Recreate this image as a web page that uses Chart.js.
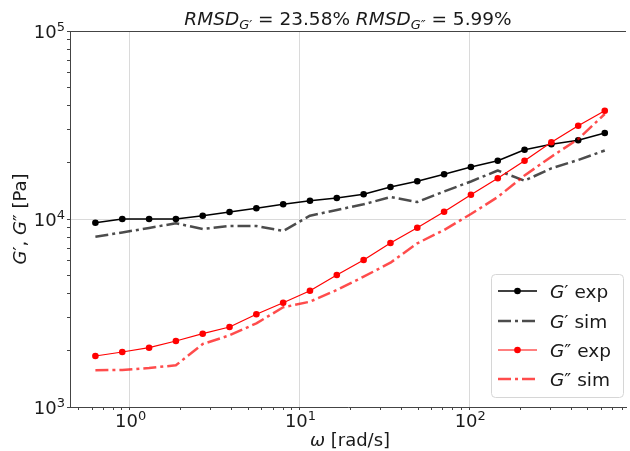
<!DOCTYPE html>
<html><head><meta charset="utf-8">
<script src="https://cdn.jsdelivr.net/npm/chart.js@4.4.0/dist/chart.umd.min.js"></script>
<style>html,body{margin:0;padding:0;background:#fff;}</style>
</head><body>
<canvas id="c" width="630" height="451" style="width:630px;height:451px;display:block"></canvas>
<script>
// ---- data ----
const omega = [0.628, 0.904, 1.301, 1.871, 2.692, 3.873, 5.572, 8.016, 11.53, 16.59,
               23.87, 34.35, 49.41, 71.09, 102.3, 147.2, 211.7, 304.6, 438.2, 628.3];
const gPrimeExp = [9557, 10000, 10000, 10000, 10412, 10896, 11400, 11974, 12514, 12931,
                   13533, 14797, 15870, 17289, 18904, 20424, 23370, 24960, 26220, 28670];
const gPrimeSim = [8050, 8477, 8968, 9486, 8846, 9179, 9179, 8635, 10412, 11166,
                   11974, 13092, 12315, 14008, 15832, 18113, 15987, 18609, 20600, 23140];
const gDblExp = [1867, 1962, 2068, 2244, 2454, 2664, 3112, 3587, 4151, 5036,
                 6052, 7452, 8989, 10937, 13464, 16461, 20393, 25586, 31357, 37670];
const gDblSim = [1568, 1574, 1613, 1667, 2163, 2406, 2787, 3391, 3632, 4192,
                 4933, 5856, 7425, 8739, 10631, 13092, 17036, 21449, 26640, 36180];
const xTickValues = [1, 10, 100];
const xTickExps = ['0', '1', '2'];
const yTickValues = [1000, 10000, 100000];
const yTickExps = ['3', '4', '5'];
const tickBase = '10';
const titleParts = ['RMSD', 'G′', ' = 23.58% ', 'RMSD', 'G″', ' = 5.99%'];
const seriesLabels = [['G', '′ exp'], ['G', '′ sim'], ['G', '″ exp'], ['G', '″ sim']];
const xLabel = ['ω', ' [rad/s]'];
const yLabel = ['G', '′, ', 'G', '″ [Pa]'];

const FONT = '"DejaVu Sans", sans-serif';
const AXIS = '#444';
const GRID = '#dadada';
const TXT = '#1a1a1a';
const SIM_DASH = [13, 4, 3, 4];

function pts(ys) { return omega.map((x, i) => ({x: x, y: ys[i]})); }

function minorTicks(min, max) {
  const out = [];
  for (let d = Math.floor(Math.log10(min)); d <= Math.ceil(Math.log10(max)); d++) {
    for (let m = 1; m <= 9; m++) {
      const v = m * Math.pow(10, d);
      if (v >= min * 0.9999 && v <= max * 1.0001) out.push({value: v});
    }
  }
  return out;
}
function isMajor(v, list) { return list.some(m => Math.abs(v / m - 1) < 1e-6); }

function fontStr(s) { return (s.it ? 'italic ' : '') + s.size + 'px ' + FONT; }
function richWidth(ctx, segs) {
  let w = 0;
  segs.forEach(s => { ctx.font = fontStr(s); s.w = ctx.measureText(s.t).width; w += s.w; });
  return w;
}
function drawRichAt(ctx, segs, x, y, align) {
  const w = richWidth(ctx, segs);
  let cx = align === 'center' ? x - w / 2 : align === 'right' ? x - w : x;
  ctx.textAlign = 'left';
  ctx.textBaseline = 'alphabetic';
  segs.forEach(s => { ctx.font = fontStr(s); ctx.fillText(s.t, cx, y + (s.dy || 0)); cx += s.w; });
}
function powSegs(e) { return [{t: tickBase, size: 18}, {t: e, size: 13, dy: -7.5}]; }

const decor = {
  id: 'decor',
  afterDraw(chart) {
    const ctx = chart.ctx, a = chart.chartArea;
    const xs = chart.scales.x, ys = chart.scales.y;
    ctx.save();
    // top spine
    ctx.strokeStyle = AXIS; ctx.lineWidth = 1;
    ctx.beginPath(); ctx.moveTo(a.left, a.top + 0.5); ctx.lineTo(a.right, a.top + 0.5); ctx.stroke();
    ctx.fillStyle = TXT;
    // tick labels with superscript exponents
    xTickValues.forEach((v, i) => drawRichAt(ctx, powSegs(xTickExps[i]), xs.getPixelForValue(v) + 1, 427, 'center'));
    yTickValues.forEach((v, i) => drawRichAt(ctx, powSegs(yTickExps[i]), a.left - 5, ys.getPixelForValue(v) + 7, 'right'));
    // title
    const cxT = (a.left + a.right) / 2;
    drawRichAt(ctx, [
      {t: titleParts[0], it: true, size: 18.5},
      {t: titleParts[1], it: true, size: 13, dy: 4},
      {t: titleParts[2], size: 18.5},
      {t: titleParts[3], it: true, size: 18.5},
      {t: titleParts[4], it: true, size: 13, dy: 4},
      {t: titleParts[5], size: 18.5}
    ], cxT, 25, 'center');
    // x label
    drawRichAt(ctx, [{t: xLabel[0], it: true, size: 18}, {t: xLabel[1], size: 18}], cxT + 2, 446, 'center');
    // y label
    ctx.save();
    ctx.translate(26, (a.top + a.bottom) / 2);
    ctx.rotate(-Math.PI / 2);
    drawRichAt(ctx, [
      {t: yLabel[0], it: true, size: 18}, {t: yLabel[1], size: 18},
      {t: yLabel[2], it: true, size: 18}, {t: yLabel[3], size: 18}
    ], 0, 0, 'center');
    ctx.restore();
    // legend
    const lx = 491, ly = 274, lw = 132, lh = 123;
    ctx.beginPath();
    ctx.roundRect(lx + 0.5, ly + 0.5, lw, lh, 4);
    ctx.fillStyle = 'rgba(255,255,255,0.85)';
    ctx.fill();
    ctx.strokeStyle = '#d6d6d6'; ctx.lineWidth = 1; ctx.stroke();
    const rows = [291, 321, 350, 379];
    chart.data.datasets.forEach((ds, i) => {
      const y = rows[i];
      ctx.save();
      ctx.strokeStyle = ds.borderColor;
      ctx.lineWidth = ds.borderWidth;
      ctx.setLineDash(ds.borderDash || []);
      ctx.beginPath(); ctx.moveTo(498, y); ctx.lineTo(537, y); ctx.stroke();
      if (ds.pointRadius > 0) {
        ctx.setLineDash([]);
        ctx.fillStyle = ds.pointBackgroundColor;
        ctx.beginPath(); ctx.arc(517.5, y, ds.pointRadius, 0, Math.PI * 2); ctx.fill();
      }
      ctx.restore();
      ctx.fillStyle = TXT;
      drawRichAt(ctx, [{t: seriesLabels[i][0], it: true, size: 18.5}, {t: seriesLabels[i][1], size: 18.5}], 550, y + 6.5, 'left');
    });
    ctx.restore();
  }
};

new Chart(document.getElementById('c'), {
  type: 'line',
  data: {
    datasets: [
      {data: pts(gPrimeExp), borderColor: '#000', borderWidth: 1.5, pointRadius: 3.3,
       pointBackgroundColor: '#000', pointBorderWidth: 0, order: 4, borderJoinStyle: 'round'},
      {data: pts(gPrimeSim), borderColor: 'rgba(0,0,0,0.7)', borderWidth: 2.5, borderDash: SIM_DASH,
       pointRadius: 0, order: 3, borderJoinStyle: 'round'},
      {data: pts(gDblExp), borderColor: '#ff0000', borderWidth: 1.2, pointRadius: 3.3,
       pointBackgroundColor: '#ff0000', pointBorderWidth: 0, order: 2, borderJoinStyle: 'round'},
      {data: pts(gDblSim), borderColor: 'rgba(255,0,0,0.7)', borderWidth: 2.5, borderDash: SIM_DASH,
       pointRadius: 0, order: 1, borderJoinStyle: 'round'}
    ]
  },
  options: {
    responsive: false,
    devicePixelRatio: 1,
    animation: false,
    events: [],
    layout: {padding: {left: 10, right: 1, top: 31, bottom: 10}},
    plugins: {legend: {display: false}, tooltip: {enabled: false}, title: {display: false}},
    scales: {
      x: {
        type: 'logarithmic', min: 0.445, max: 838,
        afterFit(s) { s.height = 34; },
        afterBuildTicks(s) { s.ticks = minorTicks(0.445, 838); },
        border: {color: AXIS, width: 1},
        grid: {
          color: c => (c.tick && isMajor(c.tick.value, xTickValues)) ? GRID : 'rgba(0,0,0,0)',
          tickColor: AXIS, tickLength: 3, drawTicks: true, lineWidth: 1
        },
        ticks: {autoSkip: false, maxRotation: 0, padding: 3, callback: () => ''}
      },
      y: {
        type: 'logarithmic', min: 1000, max: 100000,
        afterFit(s) { s.width = 60; },
        afterBuildTicks(s) { s.ticks = minorTicks(1000, 100000); },
        border: {color: AXIS, width: 1},
        grid: {
          color: c => (c.tick && isMajor(c.tick.value, yTickValues)) ? GRID : 'rgba(0,0,0,0)',
          tickColor: AXIS, tickLength: 3, drawTicks: true, lineWidth: 1
        },
        ticks: {autoSkip: false, padding: 3, callback: () => ''}
      }
    }
  },
  plugins: [decor]
});
</script>
</body></html>
